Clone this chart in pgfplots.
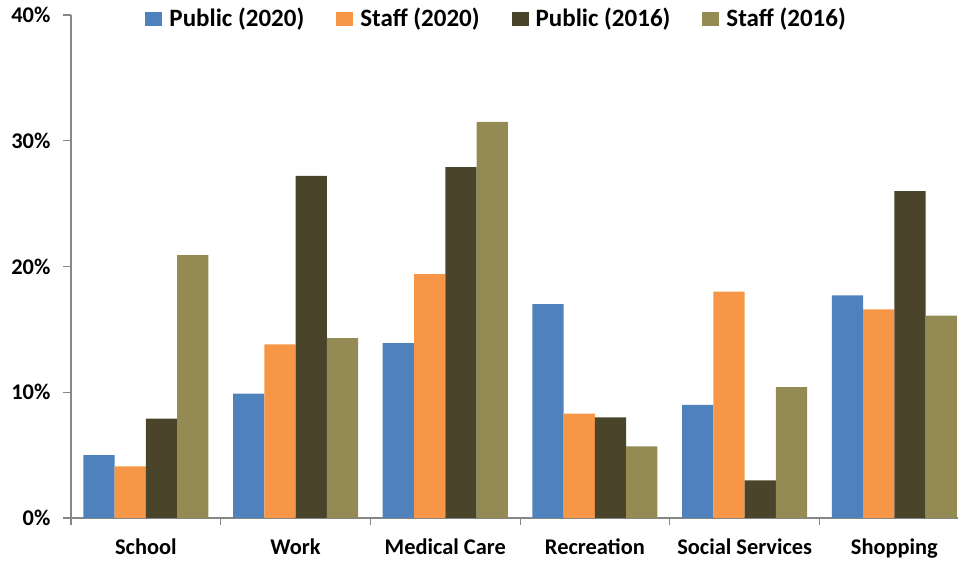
\documentclass[border=0pt]{standalone}
\usepackage{fontspec}
\setmainfont{Carlito}
\usepackage{pgfplots}
\pgfplotsset{compat=1.18}
\definecolor{cBlue}{HTML}{4F81BD}
\definecolor{cOrange}{HTML}{F79646}
\definecolor{cDark}{HTML}{4A452A}
\definecolor{cOlive}{HTML}{948A54}
\definecolor{axgray}{HTML}{868686}
\begin{document}
\begin{tikzpicture}
\begin{axis}[
  scale only axis, width=443.5pt, height=251.5pt,
  xmin=-0.5, xmax=5.425, ymin=0, ymax=40,
  axis lines*=left,
  axis line style={axgray, line width=0.6pt},
  ybar, bar width=0.2088,
  xtick={0,...,5},
  xticklabels={School,Work,Medical Care,Recreation,Social Services,Shopping},
  minor xtick={-0.5,0.5,1.5,2.5,3.5,4.5},
  major x tick style={draw=none},
  minor x tick style={axgray, line width=0.6pt},
  minor tick length=3.5pt,
  major tick length=4pt,
  tick align=outside,
  ytick={0,10,20,30,40},
  yticklabel={\pgfmathprintnumber{\tick}\%},
  y tick style={axgray, line width=0.6pt},
  /pgf/number format/assume math mode=true,
  ticklabel style={font=\fontsize{11.2}{13}\selectfont\bfseries, text=black},
  yticklabel style={xshift=-2.8pt},
  xticklabel style={yshift=-2.8pt},
  legend columns=4,
  legend style={at={(0.481,0.992)}, anchor=center, draw=none, fill=none,
    font=\fontsize{12.5}{15}\selectfont\bfseries,
    /tikz/every odd column/.append style={column sep=1.5pt},
    /tikz/every even column/.append style={column sep=14pt}},
  legend image code/.code={\fill[#1] (0pt,-3.5pt) rectangle (8.5pt,3.5pt);},
]
\addplot[fill=cBlue, draw=none, bar shift=-0.3132] coordinates {(0,5.0) (1,9.9) (2,13.9) (3,17.0) (4,9.0) (5,17.7)};
\addlegendentry{Public (2020)}
\addplot[fill=cOrange, draw=none, bar shift=-0.1044] coordinates {(0,4.1) (1,13.8) (2,19.4) (3,8.3) (4,18.0) (5,16.6)};
\addlegendentry{Staff (2020)}
\addplot[fill=cDark, draw=none, bar shift=0.1044] coordinates {(0,7.9) (1,27.2) (2,27.9) (3,8.0) (4,3.0) (5,26.0)};
\addlegendentry{Public (2016)}
\addplot[fill=cOlive, draw=none, bar shift=0.3132] coordinates {(0,20.9) (1,14.3) (2,31.5) (3,5.7) (4,10.4) (5,16.1)};
\addlegendentry{Staff (2016)}
\coordinate (bl) at (rel axis cs:0,0);
\coordinate (tr) at (rel axis cs:1,1);
\end{axis}
\pgfresetboundingbox
\path[use as bounding box] ([xshift=-35.5pt,yshift=-21.5pt]bl) rectangle ([yshift=7.5pt]tr);
\end{tikzpicture}
\end{document}
